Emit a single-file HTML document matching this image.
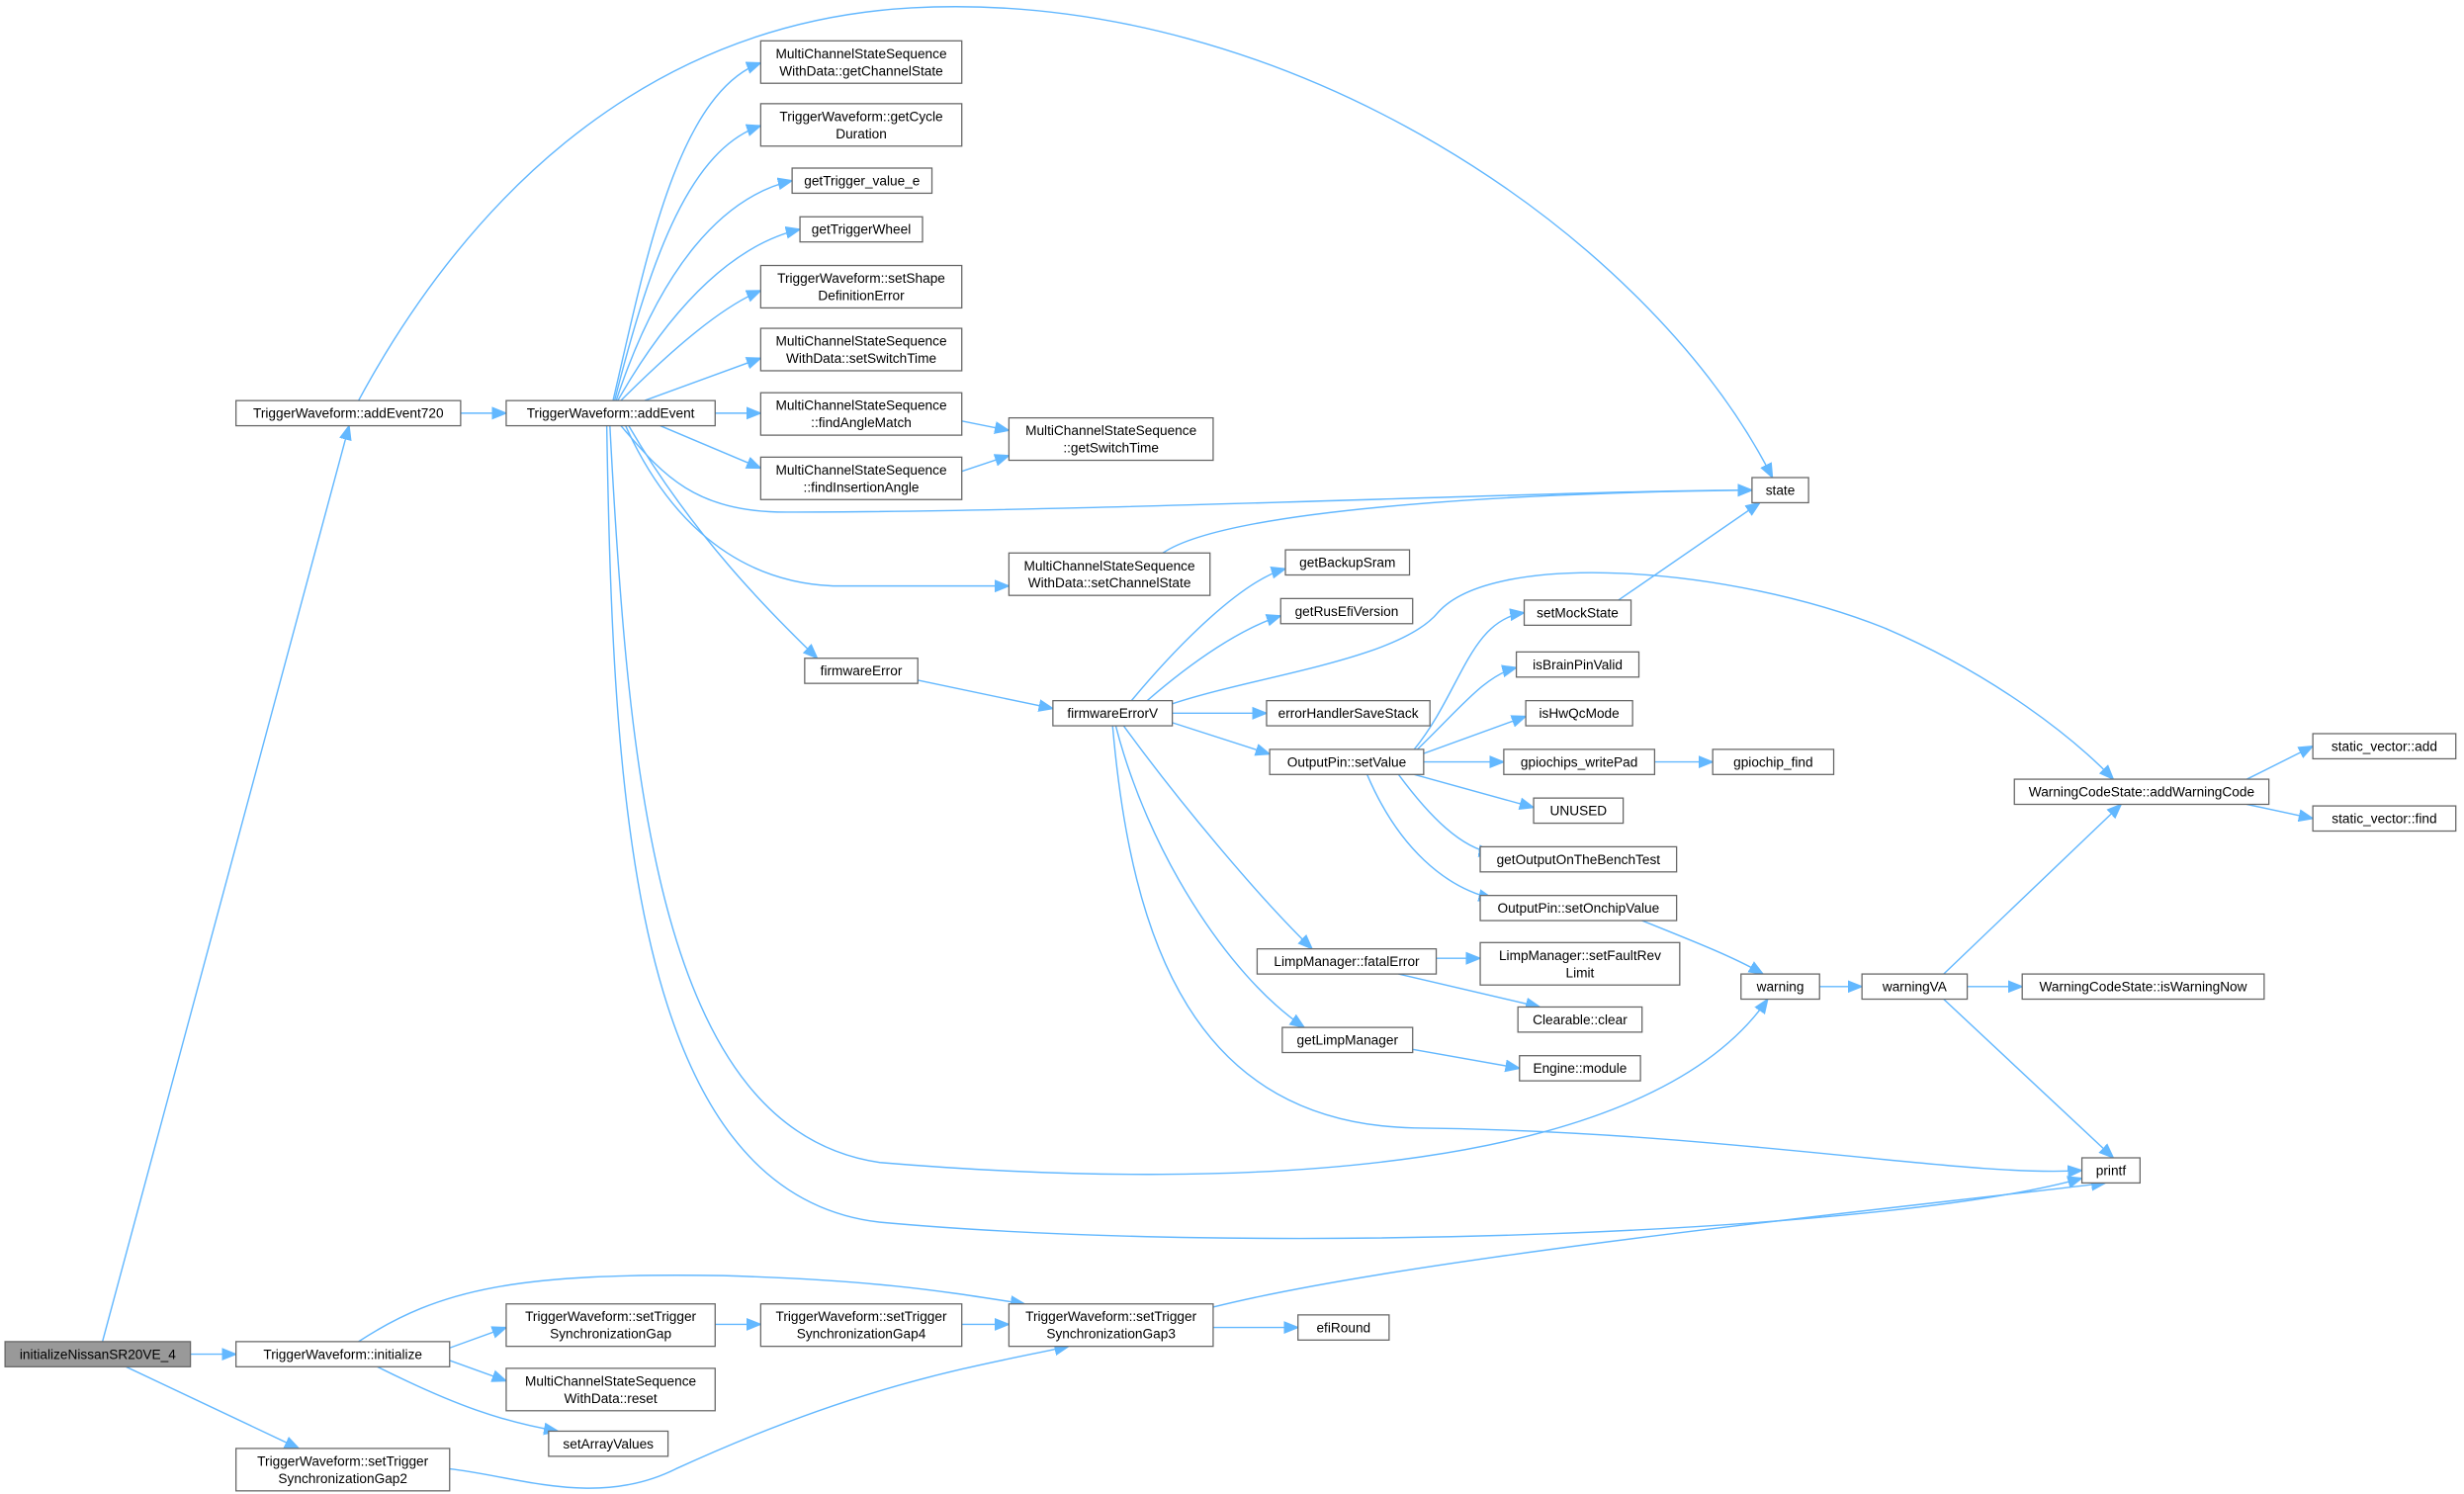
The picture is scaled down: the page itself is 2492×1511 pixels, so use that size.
<!DOCTYPE html>
<html><head><meta charset="utf-8"><style>
html,body{margin:0;padding:0;background:#fff;}
svg{display:block;}
text{font-family:"Liberation Sans","DejaVu Sans",sans-serif;font-size:8.6px;fill:#000;text-anchor:middle;}
rect{fill:#fff;stroke:#666;stroke-width:0.8;}
path{fill:none;stroke:#63b8ff;stroke-width:0.9;marker-end:url(#a);}
</style></head><body>
<svg width="2492" height="1511" viewBox="0 0 1568 951" xmlns="http://www.w3.org/2000/svg">
<defs><marker id="a" viewBox="0 0 10 10" refX="10" refY="5" markerWidth="9" markerHeight="9" markerUnits="userSpaceOnUse" orient="auto"><path d="M0,1 L10,5 L0,9 z" style="fill:#63b8ff;stroke:#63b8ff;marker-end:none"/></marker></defs>

<!-- edges -->
<path d="M65,854 L222,271"/>
<path d="M121,862 L150,862"/>
<path d="M80,870 L190,922"/>
<path d="M293,263 L322,263"/>
<path d="M228,255 C290,140 400,15 580,5 C820,-8 1050,150 1128,304"/>
<path d="M390,255 C410,170 430,60 484,40"/>
<path d="M391,255 C415,160 440,95 484,80"/>
<path d="M392,255 C420,170 460,125 504,115"/>
<path d="M393,255 C430,190 470,155 509,146"/>
<path d="M395,255 C430,220 460,195 484,185"/>
<path d="M410,255 L484,228"/>
<path d="M455,263 L484,263"/>
<path d="M420,271 L484,298"/>
<path d="M395,271 C420,300 440,326 500,326 C700,326 1000,312 1115,312"/>
<path d="M398,271 C420,320 460,370 530,373 L642,373"/>
<path d="M400,271 C440,340 490,390 520,419"/>
<path d="M388,271 C400,500 420,720 560,740 C800,760 1050,745 1125,636"/>
<path d="M386,271 C390,500 400,760 560,778 C800,800 1200,785 1325,750"/>
<path d="M612,268 L642,274"/>
<path d="M612,300 L642,290"/>
<path d="M740,352 C780,325 950,314 1115,312"/>
<path d="M584,433 L670,451"/>
<path d="M720,446 C750,410 790,370 818,362"/>
<path d="M730,446 C760,420 790,400 815,392"/>
<path d="M746,454 L806,454"/>
<path d="M746,460 L808,480"/>
<path d="M715,462 C750,510 800,570 835,604"/>
<path d="M710,462 C730,540 780,620 830,654"/>
<path d="M708,462 C720,600 760,715 900,718 C1100,720 1250,750 1325,745"/>
<path d="M746,448 C800,430 890,420 915,390 C950,350 1100,360 1200,400 C1270,430 1320,470 1345,496"/>
<path d="M900,477 C930,440 935,395 970,390"/>
<path d="M902,477 C930,450 945,430 965,425"/>
<path d="M905,480 L971,456"/>
<path d="M906,485 L957,485"/>
<path d="M900,493 L976,514"/>
<path d="M890,493 C910,520 930,540 950,543"/>
<path d="M870,493 C890,540 920,565 950,572"/>
<path d="M1030,382 L1120,320"/>
<path d="M1053,485 L1090,485"/>
<path d="M1045,586 C1080,600 1105,610 1122,620"/>
<path d="M914,610 L942,610"/>
<path d="M890,620 L980,641"/>
<path d="M899,668 L967,680"/>
<path d="M1158,628 L1185,628"/>
<path d="M1252,628 L1287,628"/>
<path d="M1237,620 L1350,512"/>
<path d="M1237,636 L1345,737"/>
<path d="M1430,496 L1472,475"/>
<path d="M1430,512 L1472,521"/>
<path d="M286,858 L322,845"/>
<path d="M286,866 L322,879"/>
<path d="M240,870 C290,895 320,905 355,911"/>
<path d="M228,854 C280,820 330,810 460,812 C560,815 600,822 652,830"/>
<path d="M455,843 L484,843"/>
<path d="M612,843 L642,843"/>
<path d="M772,845 L826,845"/>
<path d="M772,832 C900,800 1200,770 1340,753"/>
<path d="M286,935 C330,940 380,960 430,935 C550,880 620,870 680,857"/>

<!-- nodes -->
<rect x="3" y="854" width="118" height="16" style="fill:#999"/><text x="62" y="865">initializeNissanSR20VE_4</text>
<rect x="150" y="255" width="143" height="16"/><text x="221.5" y="266">TriggerWaveform::addEvent720</text>
<rect x="322" y="255" width="133" height="16"/><text x="388.5" y="266">TriggerWaveform::addEvent</text>
<rect x="484" y="26" width="128" height="27"/><text x="548" y="37">MultiChannelStateSequence</text><text x="548" y="48">WithData::getChannelState</text>
<rect x="484" y="66" width="128" height="27"/><text x="548" y="77">TriggerWaveform::getCycle</text><text x="548" y="88">Duration</text>
<rect x="504" y="107" width="89" height="16"/><text x="548.5" y="118">getTrigger_value_e</text>
<rect x="509" y="138" width="78" height="16"/><text x="548" y="149">getTriggerWheel</text>
<rect x="484" y="169" width="128" height="27"/><text x="548" y="180">TriggerWaveform::setShape</text><text x="548" y="191">DefinitionError</text>
<rect x="484" y="209" width="128" height="27"/><text x="548" y="220">MultiChannelStateSequence</text><text x="548" y="231">WithData::setSwitchTime</text>
<rect x="484" y="250" width="128" height="27"/><text x="548" y="261">MultiChannelStateSequence</text><text x="548" y="272">::findAngleMatch</text>
<rect x="484" y="291" width="128" height="27"/><text x="548" y="302">MultiChannelStateSequence</text><text x="548" y="313">::findInsertionAngle</text>
<rect x="642" y="266" width="130" height="27"/><text x="707" y="277">MultiChannelStateSequence</text><text x="707" y="288">::getSwitchTime</text>
<rect x="1115" y="304" width="36" height="16"/><text x="1133" y="315">state</text>
<rect x="642" y="352" width="128" height="27"/><text x="706" y="363">MultiChannelStateSequence</text><text x="706" y="374">WithData::setChannelState</text>
<rect x="512" y="419" width="72" height="16"/><text x="548" y="430">firmwareError</text>
<rect x="670" y="446" width="76" height="16"/><text x="708" y="457">firmwareErrorV</text>
<rect x="818" y="350" width="79" height="16"/><text x="857.5" y="361">getBackupSram</text>
<rect x="815" y="381" width="84" height="16"/><text x="857" y="392">getRusEfiVersion</text>
<rect x="806" y="446" width="104" height="16"/><text x="858" y="457">errorHandlerSaveStack</text>
<rect x="808" y="477" width="98" height="16"/><text x="857" y="488">OutputPin::setValue</text>
<rect x="800" y="604" width="114" height="16"/><text x="857" y="615">LimpManager::fatalError</text>
<rect x="816" y="654" width="83" height="16"/><text x="857.5" y="665">getLimpManager</text>
<rect x="970" y="382" width="68" height="16"/><text x="1004" y="393">setMockState</text>
<rect x="965" y="415" width="78" height="16"/><text x="1004" y="426">isBrainPinValid</text>
<rect x="971" y="446" width="68" height="16"/><text x="1005" y="457">isHwQcMode</text>
<rect x="957" y="477" width="96" height="16"/><text x="1005" y="488">gpiochips_writePad</text>
<rect x="1090" y="477" width="77" height="16"/><text x="1128.5" y="488">gpiochip_find</text>
<rect x="976" y="508" width="57" height="16"/><text x="1004.5" y="519">UNUSED</text>
<rect x="942" y="539" width="125" height="16"/><text x="1004.5" y="550">getOutputOnTheBenchTest</text>
<rect x="942" y="570" width="125" height="16"/><text x="1004.5" y="581">OutputPin::setOnchipValue</text>
<rect x="942" y="600" width="127" height="27"/><text x="1005.5" y="611">LimpManager::setFaultRev</text><text x="1005.5" y="622">Limit</text>
<rect x="966" y="641" width="79" height="16"/><text x="1005.5" y="652">Clearable::clear</text>
<rect x="967" y="672" width="77" height="16"/><text x="1005.5" y="683">Engine::module</text>
<rect x="1108" y="620" width="50" height="16"/><text x="1133" y="631">warning</text>
<rect x="1185" y="620" width="67" height="16"/><text x="1218.5" y="631">warningVA</text>
<rect x="1282" y="496" width="162" height="16"/><text x="1363" y="507">WarningCodeState::addWarningCode</text>
<rect x="1472" y="467" width="91" height="16"/><text x="1517.5" y="478">static_vector::add</text>
<rect x="1472" y="513" width="91" height="16"/><text x="1517.5" y="524">static_vector::find</text>
<rect x="1287" y="620" width="154" height="16"/><text x="1364" y="631">WarningCodeState::isWarningNow</text>
<rect x="1325" y="737" width="37" height="16"/><text x="1343.5" y="748">printf</text>
<rect x="150" y="854" width="136" height="16"/><text x="218" y="865">TriggerWaveform::initialize</text>
<rect x="322" y="830" width="133" height="27"/><text x="388.5" y="841">TriggerWaveform::setTrigger</text><text x="388.5" y="852">SynchronizationGap</text>
<rect x="322" y="871" width="133" height="27"/><text x="388.5" y="882">MultiChannelStateSequence</text><text x="388.5" y="893">WithData::reset</text>
<rect x="349" y="911" width="76" height="16"/><text x="387" y="922">setArrayValues</text>
<rect x="150" y="922" width="136" height="27"/><text x="218" y="933">TriggerWaveform::setTrigger</text><text x="218" y="944">SynchronizationGap2</text>
<rect x="484" y="830" width="128" height="27"/><text x="548" y="841">TriggerWaveform::setTrigger</text><text x="548" y="852">SynchronizationGap4</text>
<rect x="642" y="830" width="130" height="27"/><text x="707" y="841">TriggerWaveform::setTrigger</text><text x="707" y="852">SynchronizationGap3</text>
<rect x="826" y="837" width="58" height="16"/><text x="855" y="848">efiRound</text>
</svg>
</body></html>
